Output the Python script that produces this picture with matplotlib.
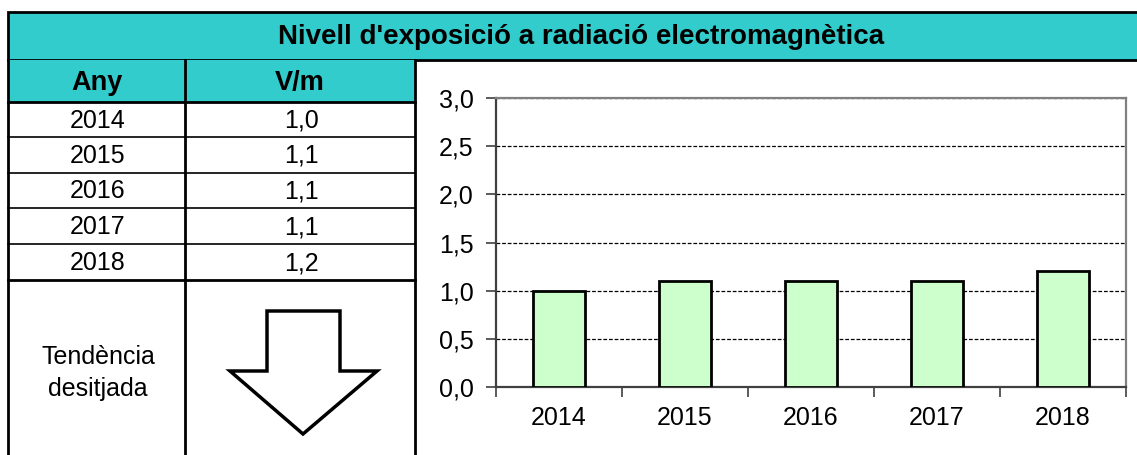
import matplotlib.pyplot as plt
from matplotlib.patches import Polygon, Rectangle
from matplotlib.ticker import FixedLocator, FuncFormatter

# data
years = ["2014", "2015", "2016", "2017", "2018"]
values = [1.0, 1.1, 1.1, 1.1, 1.2]
title = "Nivell d'exposició a radiació electromagnètica"
col_headers = ["Any", "V/m"]
trend_label = "Tendència\ndesitjada"

TEAL = "#33CCCC"
BAR_GREEN = "#CCFFCC"
W, H = 1137, 455
FS = 18

plt.rcParams["font.family"] = ["Liberation Sans", "DejaVu Sans"]

fig = plt.figure(figsize=(W / 100, H / 100), dpi=100)

# overlay axes in pixel coordinates for the table part
bg = fig.add_axes([0, 0, 1, 1])
bg.set_xlim(0, W)
bg.set_ylim(H, 0)
bg.axis("off")

# title band
bg.add_patch(Rectangle((8, 12), W + 10 - 8, 48, facecolor=TEAL, edgecolor="black", lw=2))
bg.text(581, 37, title, ha="center", va="center", fontsize=20, fontweight="bold")

# header row
bg.add_patch(Rectangle((8, 60), 415 - 8, 42, facecolor=TEAL, edgecolor="none"))
bg.text(97, 83, col_headers[0], ha="center", va="center", fontsize=19.5, fontweight="bold")
bg.text(300, 83, col_headers[1], ha="center", va="center", fontsize=19.5, fontweight="bold")

# data rows
row_lines = [102, 137, 173, 208, 244, 280]
for i, (yr, v) in enumerate(zip(years, values)):
    yc = (row_lines[i] + row_lines[i + 1]) / 2 + 1
    bg.text(98, yc, yr, ha="center", va="center", fontsize=FS)
    bg.text(301, yc, f"{v:.1f}".replace(".", ","), ha="center", va="center", fontsize=FS)

# table grid lines
bg.plot([8, 415], [102, 102], color="black", lw=2)
for y in row_lines[1:-1]:
    bg.plot([8, 415], [y, y], color="black", lw=1.2)
bg.plot([8, 415], [280, 280], color="black", lw=2)
bg.plot([8, 8], [60, H], color="black", lw=2)
bg.plot([185, 185], [60, H], color="black", lw=2)
bg.plot([415, 415], [60, H], color="black", lw=2)

# desired trend
bg.text(98, 373, trend_label, ha="center", va="center", fontsize=FS, linespacing=1.38)
arrow = [(267, 311), (340, 311), (340, 371), (377, 371), (303, 434), (230, 371), (267, 371)]
bg.add_patch(Polygon(arrow, closed=True, facecolor="white", edgecolor="black", lw=2.5, joinstyle="miter"))

# bar chart
ax = fig.add_axes([496 / W, (H - 387) / H, (1126 - 496) / W, (387 - 98) / H])
x = range(len(years))
ax.bar(x, values, width=0.41, color=BAR_GREEN, edgecolor="black", linewidth=2, zorder=3)
ax.set_xlim(-0.5, len(years) - 0.5)
ax.set_ylim(0, 3)
ax.set_yticks([0, 0.5, 1.0, 1.5, 2.0, 2.5, 3.0])
ax.yaxis.set_major_formatter(FuncFormatter(lambda v, _: f"{v:.1f}".replace(".", ",")))
ax.set_xticks(list(x))
ax.set_xticklabels(years)
ax.xaxis.set_minor_locator(FixedLocator([i - 0.5 for i in range(len(years) + 1)]))
ax.tick_params(axis="x", which="major", length=0, pad=14, labelsize=FS)
ax.tick_params(axis="x", which="minor", length=7, width=1.2, direction="out", color="#404040")
ax.tick_params(axis="y", length=7, width=1.2, direction="out", color="#404040", pad=9, labelsize=FS)
ax.yaxis.grid(True, linestyle=(0, (3, 1.5)), color="black", lw=0.9, zorder=1)
ax.set_axisbelow(True)
for side in ["left", "bottom"]:
    ax.spines[side].set_color("#404040")
    ax.spines[side].set_linewidth(1.6)
for side in ["top", "right"]:
    ax.spines[side].set_color("#808080")
    ax.spines[side].set_linewidth(1.6)

fig.savefig("out.png", dpi=100)
